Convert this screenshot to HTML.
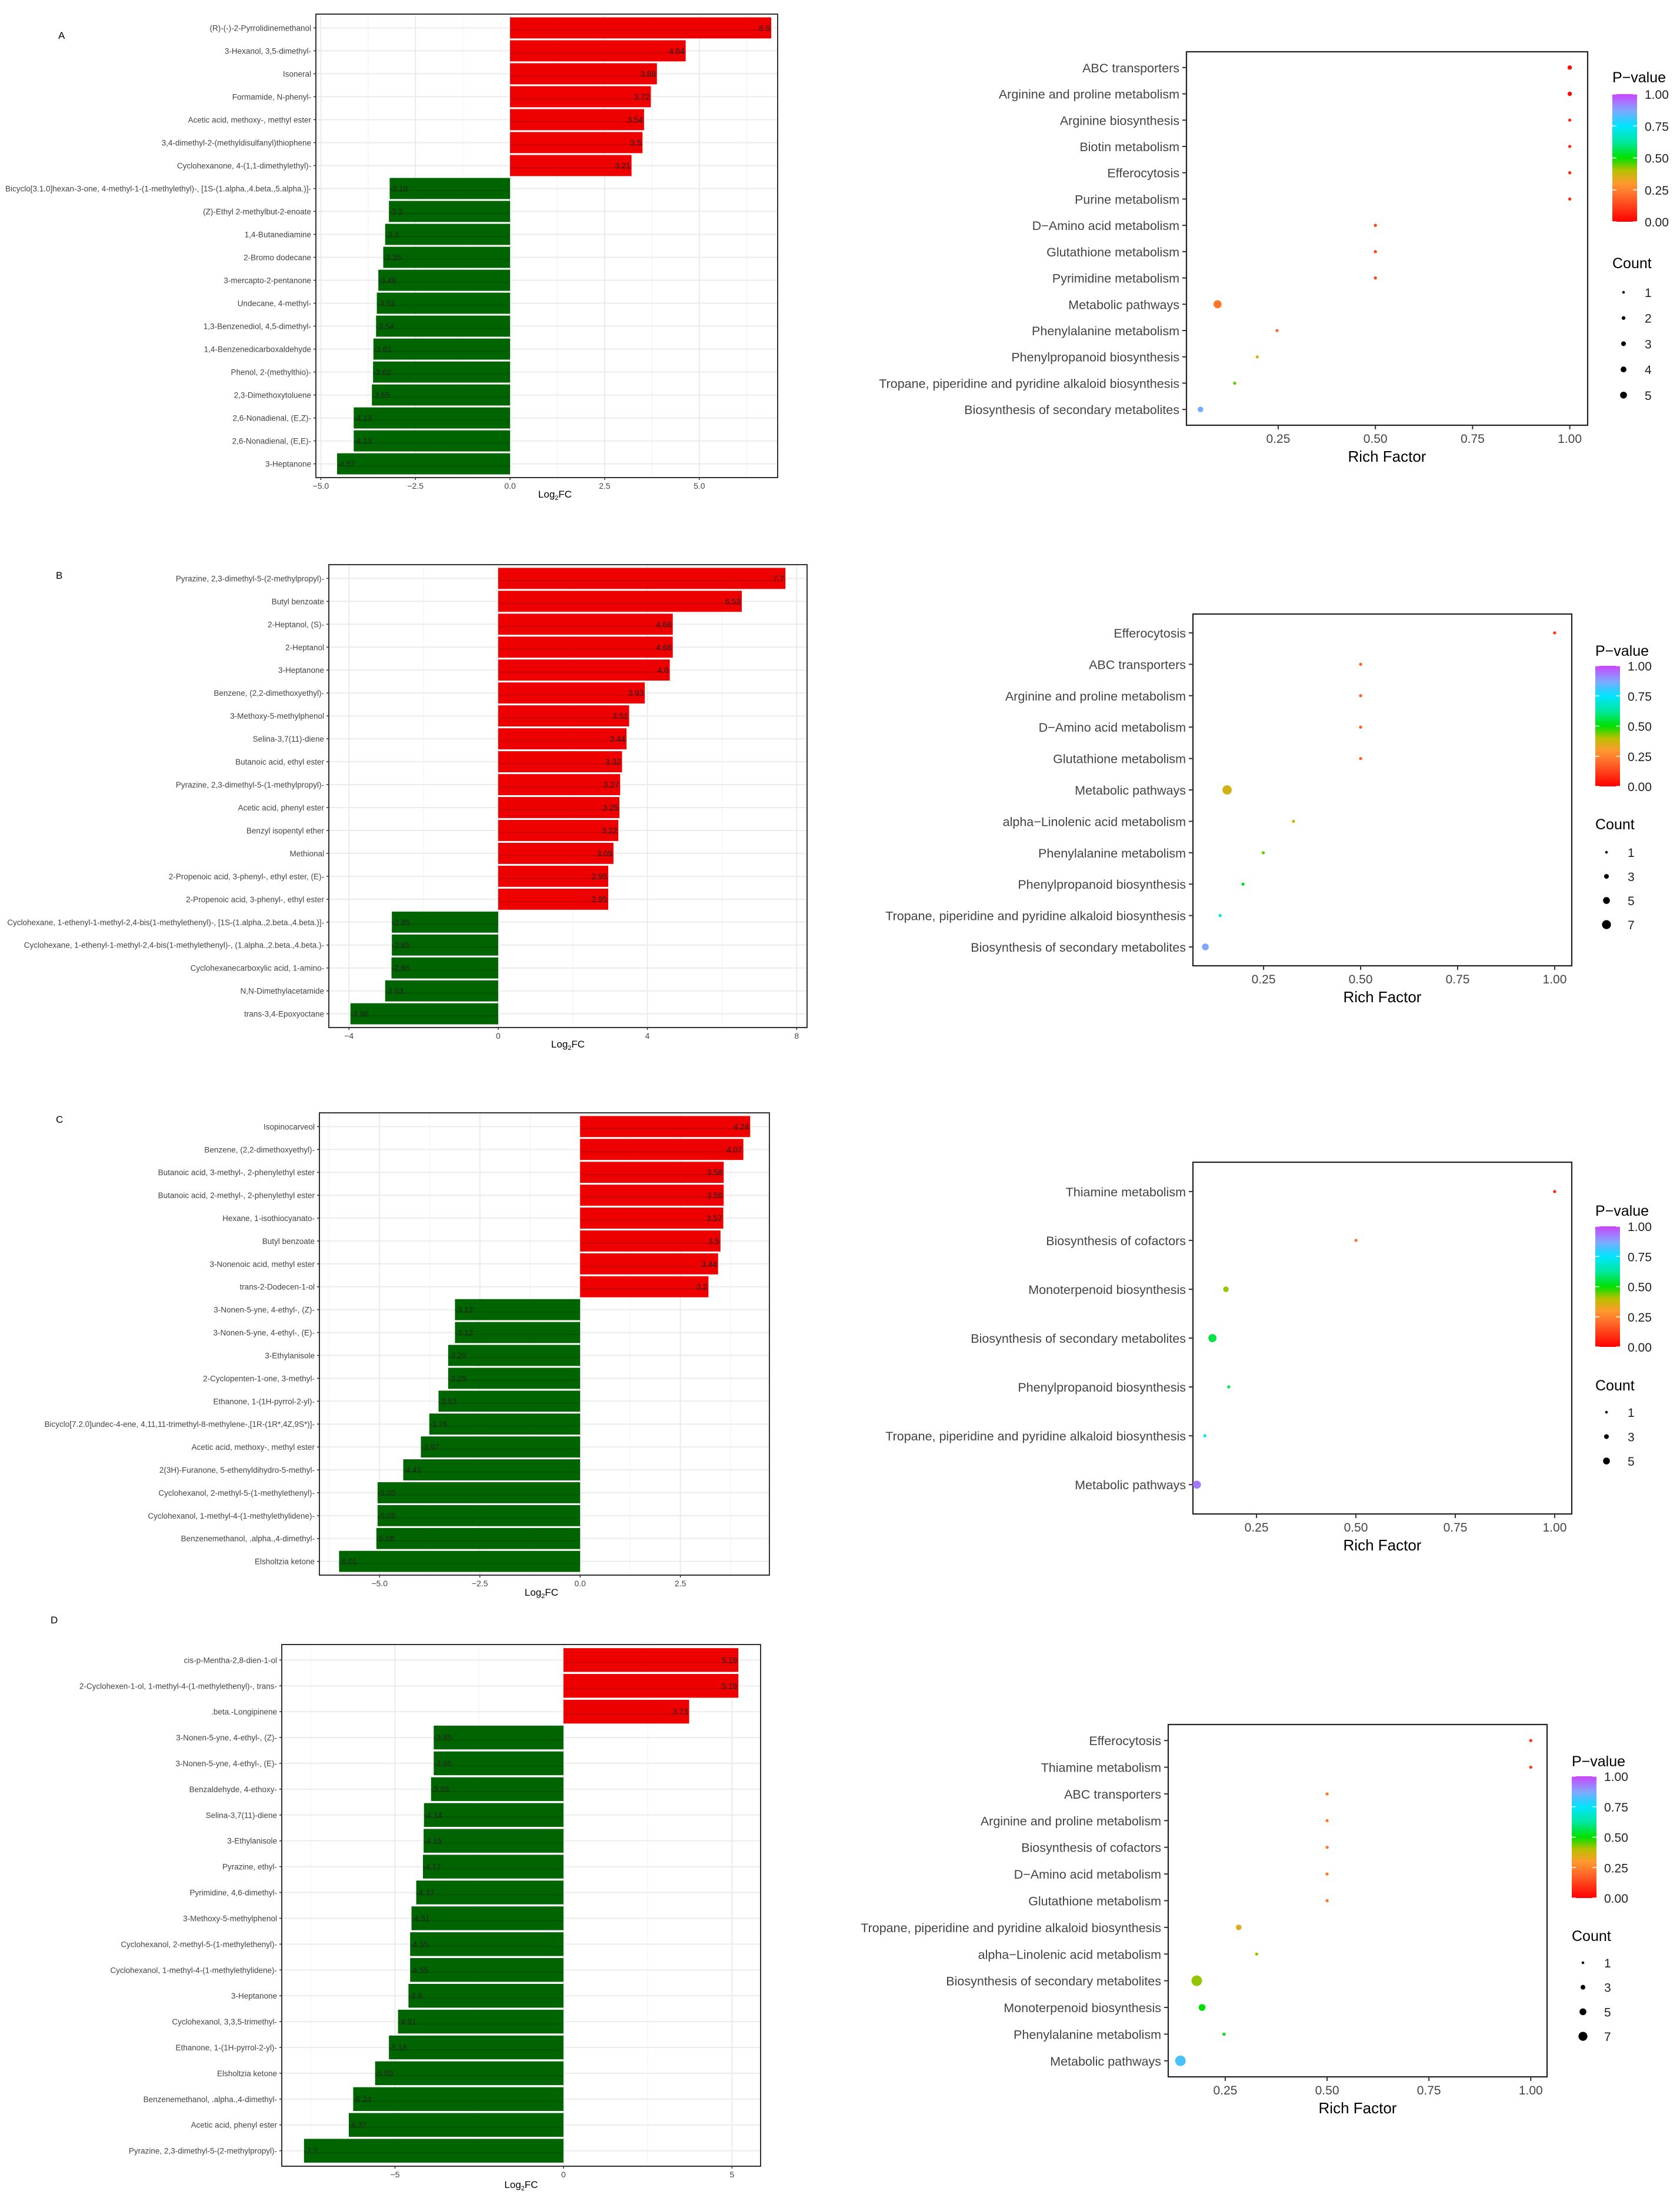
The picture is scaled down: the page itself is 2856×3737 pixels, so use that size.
<!DOCTYPE html>
<html><head><meta charset="utf-8">
<style>
html,body{margin:0;padding:0;background:#fff;}
svg{display:block;font-family:"Liberation Sans",Arial,sans-serif;}
</style></head>
<body>
<svg id="fig" width="2856" height="3737" viewBox="0 0 2856 3737" xmlns="http://www.w3.org/2000/svg">
<defs>
<linearGradient id="pgrad" x1="0" y1="1" x2="0" y2="0">
<stop offset="0" stop-color="#ff0000"/><stop offset="0.2" stop-color="#ff6a2a"/><stop offset="0.3" stop-color="#ff9a2e"/>
<stop offset="0.4" stop-color="#b8c000"/><stop offset="0.5" stop-color="#00e000"/><stop offset="0.62" stop-color="#00e89a"/>
<stop offset="0.75" stop-color="#00e5ff"/><stop offset="0.87" stop-color="#7fa8ff"/><stop offset="1" stop-color="#cc44ff"/>
</linearGradient>
</defs>
</svg>
<script>
// ---------- Bar chart data ----------
const aNames = ["(R)-(-)-2-Pyrrolidinemethanol","3-Hexanol, 3,5-dimethyl-","Isoneral","Formamide, N-phenyl-","Acetic acid, methoxy-, methyl ester","3,4-dimethyl-2-(methyldisulfanyl)thiophene","Cyclohexanone, 4-(1,1-dimethylethyl)-","Bicyclo[3.1.0]hexan-3-one, 4-methyl-1-(1-methylethyl)-, [1S-(1.alpha.,4.beta.,5.alpha.)]-","(Z)-Ethyl 2-methylbut-2-enoate","1,4-Butanediamine","2-Bromo dodecane","3-mercapto-2-pentanone","Undecane, 4-methyl-","1,3-Benzenediol, 4,5-dimethyl-","1,4-Benzenedicarboxaldehyde","Phenol, 2-(methylthio)-","2,3-Dimethoxytoluene","2,6-Nonadienal, (E,Z)-","2,6-Nonadienal, (E,E)-","3-Heptanone"];
const aValues = [6.9,4.64,3.88,3.72,3.54,3.5,3.21,-3.18,-3.2,-3.3,-3.35,-3.48,-3.52,-3.54,-3.61,-3.62,-3.65,-4.13,-4.13,-4.57];
const aTicks = [-5,-2.5,0,2.5,5];
const aTickLabels = ["\u22125.0","\u22122.5","0.0","2.5","5.0"];

const bNames = ["Pyrazine, 2,3-dimethyl-5-(2-methylpropyl)-","Butyl benzoate","2-Heptanol, (S)-","2-Heptanol","3-Heptanone","Benzene, (2,2-dimethoxyethyl)-","3-Methoxy-5-methylphenol","Selina-3,7(11)-diene","Butanoic acid, ethyl ester","Pyrazine, 2,3-dimethyl-5-(1-methylpropyl)-","Acetic acid, phenyl ester","Benzyl isopentyl ether","Methional","2-Propenoic acid, 3-phenyl-, ethyl ester, (E)-","2-Propenoic acid, 3-phenyl-, ethyl ester","Cyclohexane, 1-ethenyl-1-methyl-2,4-bis(1-methylethenyl)-, [1S-(1.alpha.,2.beta.,4.beta.)]-","Cyclohexane, 1-ethenyl-1-methyl-2,4-bis(1-methylethenyl)-, (1.alpha.,2.beta.,4.beta.)-","Cyclohexanecarboxylic acid, 1-amino-","N,N-Dimethylacetamide","trans-3,4-Epoxyoctane"];
const bValues = [7.7,6.53,4.68,4.68,4.6,3.93,3.51,3.44,3.32,3.27,3.25,3.22,3.09,2.95,2.95,-2.85,-2.85,-2.86,-3.03,-3.96];
const bTicks = [-4,0,4,8];
const bTickLabels = ["\u22124","0","4","8"];

const cNames = ["Isopinocarveol","Benzene, (2,2-dimethoxyethyl)-","Butanoic acid, 3-methyl-, 2-phenylethyl ester","Butanoic acid, 2-methyl-, 2-phenylethyl ester","Hexane, 1-isothiocyanato-","Butyl benzoate","3-Nonenoic acid, methyl ester","trans-2-Dodecen-1-ol","3-Nonen-5-yne, 4-ethyl-, (Z)-","3-Nonen-5-yne, 4-ethyl-, (E)-","3-Ethylanisole","2-Cyclopenten-1-one, 3-methyl-","Ethanone, 1-(1H-pyrrol-2-yl)-","Bicyclo[7.2.0]undec-4-ene, 4,11,11-trimethyl-8-methylene-,[1R-(1R*,4Z,9S*)]-","Acetic acid, methoxy-, methyl ester","2(3H)-Furanone, 5-ethenyldihydro-5-methyl-","Cyclohexanol, 2-methyl-5-(1-methylethenyl)-","Cyclohexanol, 1-methyl-4-(1-methylethylidene)-","Benzenemethanol, .alpha.,4-dimethyl-","Elsholtzia ketone"];
const cValues = [4.24,4.07,3.58,3.58,3.57,3.5,3.44,3.2,-3.12,-3.12,-3.29,-3.29,-3.53,-3.76,-3.97,-4.41,-5.05,-5.05,-5.08,-6.01];
const cTicks = [-5,-2.5,0,2.5];
const cTickLabels = ["\u22125.0","\u22122.5","0.0","2.5"];

const dNames = ["cis-p-Mentha-2,8-dien-1-ol","2-Cyclohexen-1-ol, 1-methyl-4-(1-methylethenyl)-, trans-",".beta.-Longipinene","3-Nonen-5-yne, 4-ethyl-, (Z)-","3-Nonen-5-yne, 4-ethyl-, (E)-","Benzaldehyde, 4-ethoxy-","Selina-3,7(11)-diene","3-Ethylanisole","Pyrazine, ethyl-","Pyrimidine, 4,6-dimethyl-","3-Methoxy-5-methylphenol","Cyclohexanol, 2-methyl-5-(1-methylethenyl)-","Cyclohexanol, 1-methyl-4-(1-methylethylidene)-","3-Heptanone","Cyclohexanol, 3,3,5-trimethyl-","Ethanone, 1-(1H-pyrrol-2-yl)-","Elsholtzia ketone","Benzenemethanol, .alpha.,4-dimethyl-","Acetic acid, phenyl ester","Pyrazine, 2,3-dimethyl-5-(2-methylpropyl)-"];
const dValues = [5.19,5.19,3.73,-3.85,-3.85,-3.93,-4.14,-4.15,-4.17,-4.37,-4.51,-4.55,-4.55,-4.6,-4.91,-5.18,-5.59,-6.24,-6.37,-7.7];
const dTicks = [-5,0,5];
const dTickLabels = ["\u22125","0","5"];

// ---------- Dot plot data ----------
const aPath = ["ABC transporters","Arginine and proline metabolism","Arginine biosynthesis","Biotin metabolism","Efferocytosis","Purine metabolism","D\u2212Amino acid metabolism","Glutathione metabolism","Pyrimidine metabolism","Metabolic pathways","Phenylalanine metabolism","Phenylpropanoid biosynthesis","Tropane, piperidine and pyridine alkaloid biosynthesis","Biosynthesis of secondary metabolites"];
const aRich = [1.0,1.0,1.0,1.0,1.0,1.0,0.5,0.5,0.5,0.094,0.247,0.196,0.138,0.05];
const aCount = [2,2,1,1,1,1,1,1,1,5,1,1,1,3];
const aP = [0.02,0.02,0.08,0.08,0.08,0.08,0.12,0.12,0.12,0.22,0.2,0.33,0.45,0.86];

const bPath = ["Efferocytosis","ABC transporters","Arginine and proline metabolism","D\u2212Amino acid metabolism","Glutathione metabolism","Metabolic pathways","alpha\u2212Linolenic acid metabolism","Phenylalanine metabolism","Phenylpropanoid biosynthesis","Tropane, piperidine and pyridine alkaloid biosynthesis","Biosynthesis of secondary metabolites"];
const bRich = [1.0,0.5,0.5,0.5,0.5,0.156,0.327,0.249,0.197,0.138,0.1];
const bCount = [1,1,1,1,1,6,1,1,1,1,4];
const bP = [0.1,0.18,0.18,0.18,0.18,0.36,0.37,0.45,0.52,0.72,0.87];

const cPath = ["Thiamine metabolism","Biosynthesis of cofactors","Monoterpenoid biosynthesis","Biosynthesis of secondary metabolites","Phenylpropanoid biosynthesis","Tropane, piperidine and pyridine alkaloid biosynthesis","Metabolic pathways"];
const cRich = [1.0,0.5,0.173,0.139,0.18,0.12,0.1];
const cCount = [1,1,3,5,1,1,5];
const cP = [0.08,0.22,0.42,0.55,0.56,0.72,0.93];

const dPath = ["Efferocytosis","Thiamine metabolism","ABC transporters","Arginine and proline metabolism","Biosynthesis of cofactors","D\u2212Amino acid metabolism","Glutathione metabolism","Tropane, piperidine and pyridine alkaloid biosynthesis","alpha\u2212Linolenic acid metabolism","Biosynthesis of secondary metabolites","Monoterpenoid biosynthesis","Phenylalanine metabolism","Metabolic pathways"];
const dRich = [1.0,1.0,0.5,0.5,0.5,0.5,0.5,0.283,0.327,0.18,0.193,0.247,0.14];
const dCount = [1,1,1,1,1,1,1,3,1,7,4,1,7];
const dP = [0.1,0.1,0.22,0.22,0.22,0.22,0.22,0.34,0.42,0.42,0.5,0.5,0.82];

const richTicks = [0.25,0.5,0.75,1.0];
const richTickLabels = ["0.25","0.50","0.75","1.00"];
const pTicks = [0,0.25,0.5,0.75,1];
const pTickLabels = ["0.00","0.25","0.50","0.75","1.00"];

// ---------- helpers ----------
const NS = "http://www.w3.org/2000/svg";
const svg = document.getElementById("fig");
function el(tag, attrs, parent, text){
  const e = document.createElementNS(NS, tag);
  for (const k in attrs) e.setAttribute(k, attrs[k]);
  if (text !== undefined) e.textContent = text;
  (parent || svg).appendChild(e);
  return e;
}
const pStops = [[0,[255,0,0]],[0.2,[255,106,42]],[0.3,[255,154,46]],[0.4,[184,192,0]],[0.5,[0,224,0]],[0.62,[0,232,154]],[0.75,[0,229,255]],[0.87,[127,168,255]],[1,[204,68,255]]];
function pColor(p){
  for (let i=1;i<pStops.length;i++){
    if (p <= pStops[i][0]){
      const a=pStops[i-1], b=pStops[i], t=(p-a[0])/(b[0]-a[0]);
      const c=a[1].map((v,j)=>Math.round(v+(b[1][j]-v)*t));
      return "rgb("+c.join(",")+")";
    }
  }
  return "rgb(204,68,255)";
}

function barChart(cfg, names, values, ticks, tickLabels){
  const g = el("g", {});
  
  
  const L=cfg.left, R=cfg.right, T=cfg.top, B=cfg.bottom;
  const xs = v => L + (v - cfg.xmin) / (cfg.xmax - cfg.xmin) * (R - L);
  const n = names.length, step = (B - T) / (n - 1 + 1.2);
  const ys = i => T + 0.6*step + i*step;
  // panel letter
  const lt = el("text", {x:cfg.letterX, y:cfg.letterY, "font-size":17, fill:"#000"}, g, cfg.letter);
  
  
  // grid
  const minor = [];
  for (let i=0;i<ticks.length-1;i++) minor.push((ticks[i]+ticks[i+1])/2);
  minor.push(ticks[0]-(ticks[1]-ticks[0])/2, ticks[ticks.length-1]+(ticks[1]-ticks[0])/2);
  minor.forEach(v=>{ if(v>cfg.xmin && v<cfg.xmax) el("line",{x1:xs(v),x2:xs(v),y1:T,y2:B,stroke:"#f3f3f3","stroke-width":1.2},g); });
  ticks.forEach(v=>el("line",{x1:xs(v),x2:xs(v),y1:T,y2:B,stroke:"#ebebeb","stroke-width":2},g));
  for (let i=0;i<n;i++) el("line",{x1:L,x2:R,y1:ys(i),y2:ys(i),stroke:"#ebebeb","stroke-width":2},g);
  // bars
  const bh = step*0.92;
  for (let i=0;i<n;i++){
    const v = values[i];
    const x0 = xs(Math.min(0,v)), x1 = xs(Math.max(0,v));
    const r = el("rect",{x:x0,y:ys(i)-bh/2,width:x1-x0,height:bh,fill:v>0?"#ee0000":"#006400"},g);
    
    
    el("line",{x1:x0,x2:x1,y1:ys(i)+bh*0.1,y2:ys(i)+bh*0.1,stroke:"#000","stroke-opacity":0.35,"stroke-width":0.8},g);
    const lbl = el("text",{x:v>0?x1-2:x0, y:ys(i)+5, "font-size":13.5, fill:"#222", "text-anchor":v>0?"end":"start"}, g, String(v));
    
    
    const cl = el("text",{x:L-8, y:ys(i)+5, "font-size":13.5, fill:"#444", "text-anchor":"end"}, g, names[i]);
    
    
    el("line",{x1:L-4,x2:L,y1:ys(i),y2:ys(i),stroke:"#333","stroke-width":1.5},g);
  }
  // frame
  el("rect",{x:L,y:T,width:R-L,height:B-T,fill:"none",stroke:"#333","stroke-width":2},g);
  ticks.forEach((v,i)=>{
    el("line",{x1:xs(v),x2:xs(v),y1:B,y2:B+4,stroke:"#333","stroke-width":1.5},g);
    const t = el("text",{x:xs(v),y:B+19,"font-size":14,fill:"#444","text-anchor":"middle"},g,tickLabels[i]);
    
    
  });
  const at = el("text",{x:(L+R)/2+cfg.titleDx,y:cfg.titleY,"font-size":17,fill:"#000","text-anchor":"middle"},g);
  
  
  el("tspan",{},at,"Log");
  el("tspan",{"font-size":11,dy:4},at,"2");
  el("tspan",{dy:-4},at,"FC");
}

function dotChart(cfg, names, rich, counts, pvals, legendCounts){
  const g = el("g", {});
  
  
  const L=cfg.left, R=cfg.right, T=cfg.top, B=cfg.bottom;
  const xs = v => L + (v - cfg.xmin)/(cfg.xmax - cfg.xmin)*(R-L);
  const n = names.length, step = (B - T)/(n - 1 + 1.2);
  const ys = i => T + 0.6*step + i*step;
  const rad = c => 1.6 + 1.05*c;
  el("rect",{x:L,y:T,width:R-L,height:B-T,fill:"#fff",stroke:"#222","stroke-width":2.2},g);
  for (let i=0;i<n;i++){
    el("line",{x1:L-7,x2:L,y1:ys(i),y2:ys(i),stroke:"#333","stroke-width":2},g);
    const cl = el("text",{x:L-12,y:ys(i)+8,"font-size":21.5,fill:"#444","text-anchor":"end"},g,names[i]);
    
    
    const c = el("circle",{cx:xs(rich[i]),cy:ys(i),r:rad(counts[i]),fill:pColor(pvals[i])},g);
    
    
  }
  richTicks.forEach((v,i)=>{
    el("line",{x1:xs(v),x2:xs(v),y1:B,y2:B+7,stroke:"#333","stroke-width":2},g);
    const t = el("text",{x:xs(v),y:B+30,"font-size":21,fill:"#444","text-anchor":"middle"},g,richTickLabels[i]);
    
    
  });
  const xt = el("text",{x:(L+R)/2,y:B+62,"font-size":26,fill:"#000","text-anchor":"middle"},g,"Rich Factor");
  
  
  // P-value legend
  const lx = cfg.legX;
  const pt = el("text",{x:lx,y:cfg.pTitleY,"font-size":25,fill:"#000"},g,"P\u2212value");
  
  
  const cb = el("rect",{x:lx,y:cfg.barTop,width:42,height:cfg.barBot-cfg.barTop,fill:"url(#pgrad)"},g);
  
  
  const bs = p => cfg.barBot - p*(cfg.barBot-cfg.barTop);
  pTicks.forEach((p,i)=>{
    el("line",{x1:lx,x2:lx+7,y1:bs(p),y2:bs(p),stroke:"#fff","stroke-width":1.5},g);
    el("line",{x1:lx+35,x2:lx+42,y1:bs(p),y2:bs(p),stroke:"#fff","stroke-width":1.5},g);
    const t = el("text",{x:lx+55,y:bs(p)+8,"font-size":21,fill:"#222"},g,pTickLabels[i]);
    
    
  });
  const ct = el("text",{x:lx,y:cfg.cTitleY,"font-size":25,fill:"#000"},g,"Count");
  
  
  legendCounts.forEach((c,i)=>{
    const yy = cfg.cFirstY + i*cfg.cStep;
    const d = el("circle",{cx:lx+19,cy:yy,r:rad(c)*0.85,fill:"#000"},g);
    
    
    el("text",{x:lx+55,y:yy+8,"font-size":21,fill:"#222"},g,String(c));
  });
}

// ---------- draw ----------
barChart({id:"a",letter:"A",letterX:99,letterY:66,left:537,right:1322,top:24,bottom:812,xmin:-5.13,xmax:7.07,titleY:846,titleDx:14}, aNames, aValues, aTicks, aTickLabels);
barChart({id:"b",letter:"B",letterX:95,letterY:984,left:559,right:1372,top:960,bottom:1747,xmin:-4.54,xmax:8.28,titleY:1781,titleDx:0}, bNames, bValues, bTicks, bTickLabels);
barChart({id:"c",letter:"C",letterX:95,letterY:1909,left:543,right:1308,top:1892,bottom:2678,xmin:-6.5,xmax:4.72,titleY:2713,titleDx:-5}, cNames, cValues, cTicks, cTickLabels);
barChart({id:"d",letter:"D",letterX:86,letterY:2760,left:479,right:1293,top:2796,bottom:3683,xmin:-8.36,xmax:5.85,titleY:3720,titleDx:0}, dNames, dValues, dTicks, dTickLabels);

dotChart({id:"a",left:2017,right:2699,top:88,bottom:723,xmin:0.014,xmax:1.046,legX:2741,pTitleY:140,barTop:160,barBot:377,cTitleY:456,cFirstY:497,cStep:43.7}, aPath, aRich, aCount, aP, [1,2,3,4,5]);
dotChart({id:"b",left:2028,right:2672,top:1044,bottom:1642,xmin:0.068,xmax:1.044,legX:2712,pTitleY:1115,barTop:1132,barBot:1337,cTitleY:1410,cFirstY:1449,cStep:41}, bPath, bRich, bCount, bP, [1,3,5,7]);
dotChart({id:"c",left:2028,right:2672,top:1976,bottom:2574,xmin:0.09,xmax:1.043,legX:2712,pTitleY:2067,barTop:2085,barBot:2290,cTitleY:2364,cFirstY:2401,cStep:41.5}, cPath, cRich, cCount, cP, [1,3,5]);
dotChart({id:"d",left:1986,right:2630,top:2932,bottom:3531,xmin:0.11,xmax:1.04,legX:2672,pTitleY:3003,barTop:3020,barBot:3227,cTitleY:3300,cFirstY:3337,cStep:41.7}, dPath, dRich, dCount, dP, [1,3,5,7]);
</script>
</body></html>
